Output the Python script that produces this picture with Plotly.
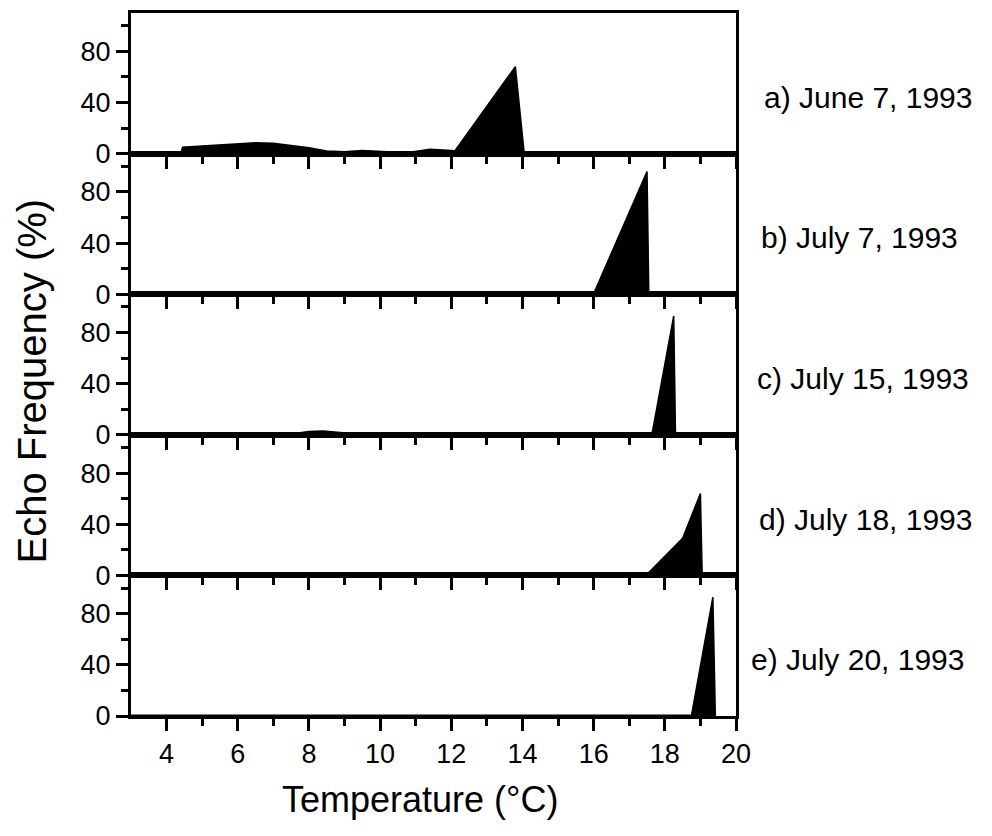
import plotly.graph_objects as go
from plotly.subplots import make_subplots

# ---- data (temperature in deg C, echo frequency in %) ----
a_temp = [4.40, 4.45, 5.0, 5.5, 6.0, 6.5, 7.0, 7.5, 8.0, 8.5, 9.0, 9.5, 10.0, 10.5, 10.7, 11.0, 11.4, 12.0, 12.1, 13.8, 14.05]
a_freq = [0.0, 5.0, 6.0, 7.0, 8.0, 8.5, 8.0, 6.5, 4.5, 2.0, 1.5, 2.5, 2.0, 1.0, 0.5, 2.0, 3.5, 2.5, 2.0, 68.0, 0.0]

b_temp = [3.0, 5.0, 7.0, 9.0, 11.0, 12.5, 14.0, 16.0, 17.5, 17.55]
b_freq = [0.5, 0.8, 0.6, 0.6, 0.5, 0.3, 0.3, 0.3, 96.0, 0.0]

c_temp = [3.0, 5.0, 7.0, 7.6, 8.0, 8.4, 8.8, 9.2, 10.0, 12.0, 14.0, 16.0, 17.5, 17.65, 18.25, 18.3]
c_freq = [0.6, 0.6, 0.6, 1.0, 2.5, 3.0, 2.0, 1.0, 0.8, 0.8, 0.6, 0.6, 0.8, 2.0, 93.0, 0.0]

d_temp = [4.35, 4.4, 6.0, 8.0, 10.0, 12.0, 14.0, 16.0, 17.5, 18.5, 19.0, 19.05]
d_freq = [0.0, 1.0, 1.0, 0.8, 0.6, 0.6, 0.6, 0.6, 0.8, 29.0, 64.0, 0.0]

e_temp = [3.0, 5.0, 7.0, 9.0, 11.0, 13.0, 15.0, 17.0, 18.75, 19.35, 19.42]
e_freq = [0.5, 0.6, 0.6, 0.5, 0.5, 0.5, 0.5, 0.5, 0.5, 93.0, 0.0]

panel_labels = ["a) June 7, 1993", "b) July 7, 1993", "c) July 15, 1993",
                "d) July 18, 1993", "e) July 20, 1993"]
x_ticks = [4, 6, 8, 10, 12, 14, 16, 18, 20]
x_minor = [5, 7, 9, 11, 13, 15, 17, 19]
y_ticks = [0, 40, 80]
y_minor = [20, 60, 100]

series = [(a_temp, a_freq), (b_temp, b_freq), (c_temp, c_freq),
          (d_temp, d_freq), (e_temp, e_freq)]

FONT = "Liberation Sans, Arial, Helvetica, sans-serif"

fig = make_subplots(rows=5, cols=1, shared_xaxes=False, vertical_spacing=0)

for i, (tx, fy) in enumerate(series):
    fig.add_trace(go.Scatter(x=tx, y=fy, mode="lines", fill="tozeroy",
                             fillcolor="black", line=dict(color="black", width=1.5),
                             showlegend=False, hoverinfo="skip"),
                  row=i + 1, col=1)

n = 5
for i in range(n):
    r = i + 1
    top = 1 - i / n
    bot = 1 - (i + 1) / n
    fig.update_yaxes(row=r, col=1, domain=[bot, top], range=[0, 110],
                     tickvals=y_ticks, ticks="outside", ticklen=12, tickwidth=2.5,
                     tickcolor="black", showline=True, linewidth=3, linecolor="black",
                     mirror=True, showgrid=False, zeroline=False,
                     tickfont=dict(family=FONT, size=27, color="black"),
                     minor=dict(tickvals=y_minor, ticks="outside", ticklen=7,
                                tickwidth=2.5, tickcolor="black"))
    fig.update_xaxes(row=r, col=1, range=[3, 20], tickvals=x_ticks,
                     ticks="outside", ticklen=12, tickwidth=2.5, tickcolor="black",
                     showline=True, linewidth=3, linecolor="black", mirror=True,
                     showgrid=False, zeroline=False,
                     showticklabels=(r == n),
                     tickfont=dict(family=FONT, size=27, color="black"),
                     minor=dict(tickvals=x_minor, ticks="outside",
                                ticklen=7, tickwidth=2.5, tickcolor="black"))

# page body has an 8px default margin; size the figure so it fits the window
OFF = 8
W, H = 992 - OFF, 836 - OFF
L = 131 - OFF
T = 10 - OFF
R = W - (736 - OFF)
B = H - (716 - OFF)
pw = W - L - R
ph = H - T - B


def px_x(xp):
    return (xp - OFF - L) / pw


def px_y(yp):
    return ((H - B) - (yp - OFF)) / ph


label_px = [762, 759, 755, 757, 749]
for i, txt in enumerate(panel_labels):
    fig.add_annotation(text=txt, xref="paper", x=px_x(label_px[i]), xanchor="left",
                       yref=f"y{'' if i == 0 else i + 1}", y=44, yanchor="middle",
                       showarrow=False, font=dict(family=FONT, size=30, color="black"))

fig.add_annotation(text="Temperature (°C)", xref="paper", yref="paper",
                   x=px_x(420), y=px_y(800),
                   xanchor="center", yanchor="middle", showarrow=False,
                   font=dict(family=FONT, size=36, color="black"))
fig.add_annotation(text="Echo Frequency (%)", xref="paper", yref="paper",
                   x=px_x(32), y=px_y(380),
                   xanchor="center", yanchor="middle", textangle=-90, showarrow=False,
                   font=dict(family=FONT, size=40, color="black"))

fig.update_layout(width=W, height=H, margin=dict(l=L, r=R, t=T, b=B),
                  paper_bgcolor="white", plot_bgcolor="white",
                  font=dict(family=FONT, color="black"))

fig.write_html("out.html")
